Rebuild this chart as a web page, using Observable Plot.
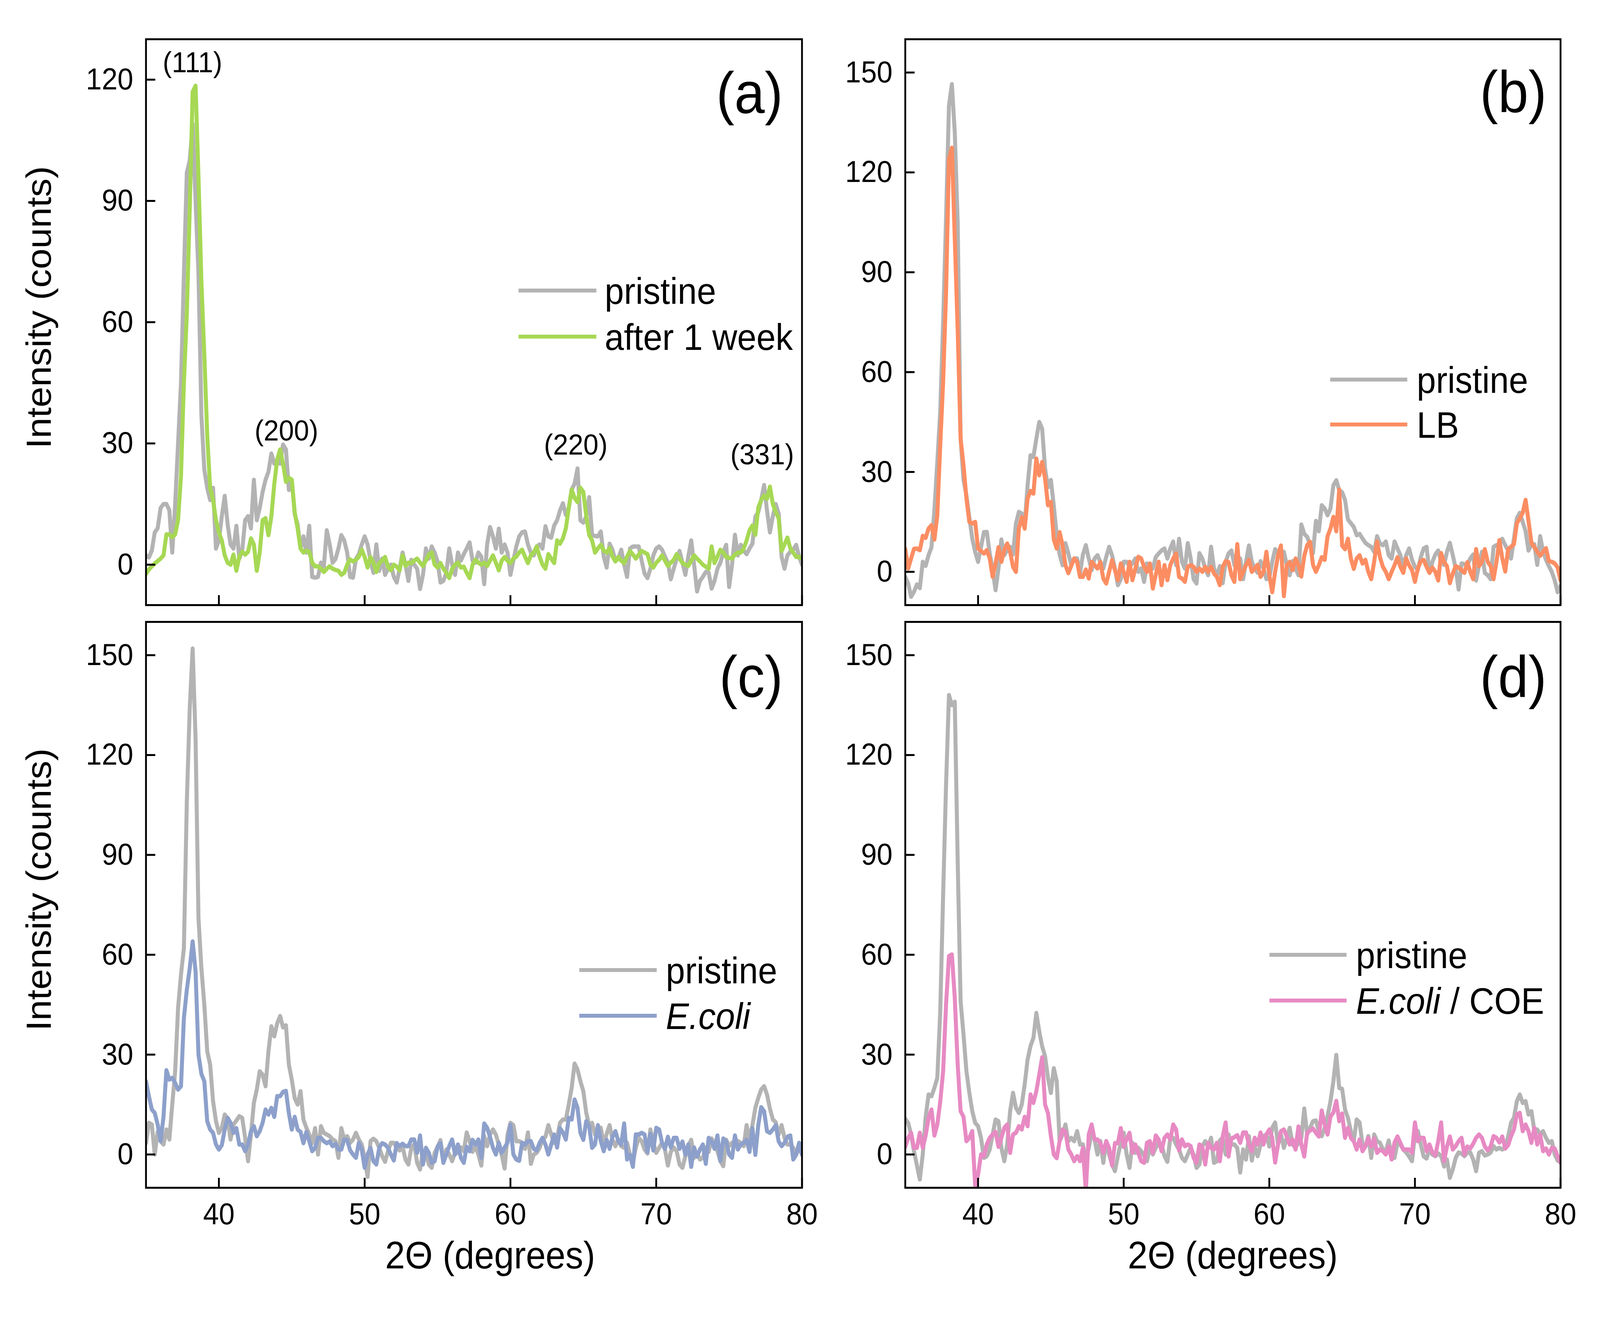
<!DOCTYPE html>
<html>
<head>
<meta charset="utf-8">
<script src="https://cdn.jsdelivr.net/npm/d3@7"></script>
<script src="https://cdn.jsdelivr.net/npm/@observablehq/plot@0.6"></script>
<style>
  html, body { margin: 0; padding: 0; background: #fff; overflow: hidden; }
  #root { position: absolute; left: 0; top: 0; width: 4400px; height: 3375px; background: #fff; overflow: hidden;
          font-family: "Liberation Sans", Arial, sans-serif; color: #000; transform-origin: 0 0; }
  .abs { position: absolute; white-space: nowrap; line-height: 1; }
</style>
</head>
<body>
<div id="root"></div>
<script>
// ---------------- data (2θ grid: 35.0 → 80.0, step 0.2°) ----------------
const twoThetaStart = 35;
const twoThetaStep = 0.2;

const aPristine = [
  2.3, 1.8, 3.5, 8, 9, 14, 15, 15, 13.5, 3,
  15, 30, 45, 72, 97, 100, 109, 90, 72, 37,
  23.5, 19, 16, 19, 4, 6, 12, 17, 10, 5,
  4, 9.6, 1.5, 3.5, 11, 12, 9, 21, 11, 14,
  18, 21, 23, 27.5, 25, 26, 25, 29.7, 28.5, 18.5,
  21, 12.5, 10, 4, 7, 3, 9.6, -3, -3.2, -3,
  0.5, -0.4, 8.5, 5, 0.5, 1.4, 4, 7.3, 6, 3,
  -3, -3.2, 1.4, 2.6, 5, 7, 5, 1, -2, 5,
  -1.5, 1.5, -2.5, -1, 0, -3, -4.4, -1, 3, 0,
  -4, 1.2, 0, -1, -6, -2.5, 4, 1.5, 4.5, 3,
  0.8, -4.4, -4, -2, 4, 0, -2.5, 3, 1, 2.6,
  4, 5.5, 1, 0.5, 3, 2, -4.8, 5, 9.3, 7,
  4, 8.9, 3, 5, 3, -2.5, 1, 4.5, 7, 8,
  8.2, 5, 3, 2.3, 4.5, 5, 4, 9.5, 7, 6.7,
  9.7, 11, 13.4, 15.2, 12.3, 14, 18.6, 20, 23.8, 11,
  10.4, 12, 16.7, 7.4, 7.1, 7, 8.2, 2, -0.7, 5.2,
  3.7, 1, 1.5, 3.7, 0, -3, 4, 4.5, 4.5, 4.5,
  1, -2.2, -3.3, -1, 2.3, 4, 4.5, 3.7, 2, 0.5,
  -3.6, -1, 1.5, 3.4, 0.5, -2.5, 2, 6, 0, -6.6,
  -4, -3, -1.8, -2, -5.9, -4, -1, 0.5, 3, 4.9,
  -5.5, 0, 7.4, 2.3, 4.9, 3.5, 2.6, 4, 5.2, 11.9,
  13, 16, 19.7, 13.4, 8, 12, 15, 12.6, 2, -1,
  2.3, 3.2, 3.7, 4.9, 2, 0
];
const aAfterWeek = [
  -2.3, -1.2, -0.4, 0.3, 0.9, 1.5, 2.3, 7.5, 7.5, 6.8,
  7.5, 11, 22, 45, 62, 88, 117, 118.5, 96, 70,
  52, 32, 19, 16, 11, 8, 6, 2.3, 0.5, 0,
  2.5, -1.5, 2, 3.2, 2.5, 3.2, 6.5, 5, -1.5, 3,
  11, 11.5, 7.3, 12, 20, 26, 28.5, 25, 20.5, 21.5,
  21, 13, 9, 4, 3, 3.5, 3.2, 0.5, -0.4, -0.4,
  -1, -1.8, -1, -0.4, -1, -1.3, -1.5, -2.5, -2, 0,
  1.3, 0.8, 1.2, 2, 3.7, 1.9, -0.7, 1.9, 0.5, -1.8,
  0.4, 1, 1.9, -0.5, -1.4, 0, -0.5, -1.4, 2.3, -0.3,
  0.5, 0.4, 1, 1.5, 0.5, -0.3, 1, 2.5, 3, 0,
  -0.7, 0.4, -1, -2, -3.3, -1, 0, 0.5, -0.7, -0.5,
  -2, -3.3, 0, 1.2, 0.5, 0, 0.5, -0.3, 1, 2.3,
  0.5, -1.4, 1, 1.9, 1, 0.4, 1.5, 2, 3, 3.7,
  2, 0.4, 2.3, 3, 4.5, 2, 0, -1, 2.6, 1.5,
  0.4, 6, 5.2, 6.5, 9, 14, 18.6, 16.5, 15.5, 19,
  18, 12, 7.4, 6, 3, 4, 4.9, 3.5, 3, 4.1,
  2, 0.8, 1.9, 1, 0.4, 2, 3.4, 2.5, 1.5, 2.5,
  3.4, 3, 2.6, 0, -0.7, 0.5, 1.2, 2.3, 1, -0.3,
  0.5, 1.2, 2.6, 1.5, 0.4, 0, -0.3, 1, 2.3, 1.5,
  0.8, 0, -0.5, -1, 4.5, 0.4, 2, 3.7, 3, 1.9,
  1.7, 1.5, 2.5, 3, 3, 4, 6, 8.5, 9.7, 7.4,
  14.1, 16, 17.1, 16.3, 19.3, 15, 13, 11.5, 3.4, 5,
  6.7, 4, 3, 1.9, 1.9, 1.5
];
const bPristine = [
  -1.5, -3.5, -7.5, -6, -3.8, -4.9, 3, 1.8, 5, 7.4,
  18.6, 33, 48, 75, 106, 140, 146.5, 132, 105, 40,
  27.6, 23, 16.4, 10, 6, 3, 7.4, 11.9, 12, 5.5,
  0.7, -5.5, 1, 9.7, 5, 6.5, 7.5, 5.2, 14.5, 18,
  17.5, 14.2, 26, 35, 34.5, 40, 45, 43, 31, 25.4,
  27.6, 19.8, 11, 5.2, 2, 8.6, 5.5, 2, 4, 4,
  -0.4, 5.2, 8, 4, 0.5, 4, 5, 2.9, 1, 4.5,
  7.5, 5, 1, -4, -2.2, 3, 3, 1.7, 2.5, 4,
  0, 1, -3, 2.5, 2, 1, 4.4, 5.5, 6.4, 7,
  4, 7, 9.1, 2, 9.9, 3, 1, 8.6, 4, -2.2,
  -3.5, 5.6, 4, 1, -1, 7.5, 1, -1, 1.7, -3.4,
  3, 5.5, 6.4, 2, 3, 4, -2.2, 3, 7.9, 3,
  1, -0.3, 3.2, 1, -2.2, -1.8, 3, 6.8, 5.6, 5.8,
  6, 2, -1, 3.2, 1, -1, 14.2, 11.4, 10.5, 8,
  5.6, 15.3, 12.2, 20, 19, 17, 19, 26, 27.5, 24.5,
  23.9, 21.6, 15.7, 14.6, 13.5, 11, 11.4, 10, 8.7, 8,
  7.5, 6, 10.7, 8.5, 8, 9.1, 5, 4, 9.1, 7,
  5, 1.7, 5, 7, 3.6, 1.5, 0.5, 4.4, 7, 7.5,
  -0.3, 3, 5.2, 6.4, 3, 2.1, 6, 8.7, 5, 1,
  -5.3, 2.5, 2.3, 2.1, 4, 5.2, -2.6, 2, 6, -0.3,
  -1, -2.2, 7.5, 8, 8.3, 9.9, 8, 6.4, 4, 10,
  16.1, 17.7, 15, 12.2, 6.4, 8, 8.3, 2.1, 10.7, 6,
  3.6, 1.7, 0, -2.6, -6.1, -4.2
];
const bLB = [
  6.9, 1, 4, 6.9, 7, 6.5, 10.8, 10.2, 13, 14,
  9.7, 17, 38, 57, 83.7, 124, 127.4, 100, 72.5, 40,
  32, 22, 15, 14.5, 15, 7, 6.3, 5.5, 6.5, 4,
  -1.5, 2.5, 7.4, 3, 6.5, 8.5, 6, 1.5, 0, 13,
  16.4, 13, 22, 24.3, 23.5, 34, 29, 33, 28, 20,
  21, 9.7, 7, 11.9, 8, 2, -0.4, 1.8, 4, 3,
  -1.5, -1.5, 0.7, -2, 3, 2, 1, 2.9, -2, -3.5,
  0, 3.5, 0.5, -2.5, 2.5, 0, -3, 3, -2.5, 1,
  4.5, 4, 1.5, 0, 2.5, -5, -1, 3, -4, 2,
  -2.5, 2, 4, 5.5, -1.5, -2, -3, 1.5, 2, 1.5,
  0, 1, 0, 1.5, 0, 1.5, -0.5, -1.5, -4, 1.5,
  3.2, 2.9, -1, -3, 8.3, -2.2, 0, 2, 3.6, 0,
  1, 2.1, -1.5, 0, 6, -1, -6.1, 0, 5, 7.9,
  -7.3, 2, 3, 0.5, 4, 2, -1.4, 4.8, 8, 9,
  2.1, 0, 2, 4.4, 3.6, 10.7, 13, 16.5, 12.2, 24.7,
  7.9, 6.8, 9.9, 4, 0.9, 4, 5, 2.5, 3.6, 0,
  -2.2, 3, 9.1, 4.4, 1.5, 0, -2.2, 0, 2, 4.4,
  1.5, -0.3, 4, 2, 0.5, -3, 1, 3.2, 3.6, 1.5,
  -0.3, 1.3, 0, -2.6, 5.6, 3, 1.7, -3.4, -0.5, 1.7,
  1.3, 0.5, -0.3, 2.9, 0, -2.2, 6.8, 1.7, 3, 6.8,
  3, 1.7, -2.2, 3, 9.5, 4, 0.1, 6.8, 7.5, 8.3,
  14.6, 16, 17.7, 21.6, 15.3, 8.7, 7.5, 6, 4.8, 6,
  7.1, 3.2, 3, 2.5, 1.3, -2.6
];
const cPristine = [
  3.4, 9.5, 9, 0, 6.8, 4, 3, 7.5, 4.5, 15,
  25, 44, 54, 62, 106, 134, 152, 125, 71, 56,
  45, 31, 27, 16, 10, 6.5, 8, 12, 10.7, 4.5,
  9, 10.2, 11.5, 11, 5, -2, 6, 15.5, 19.5, 25,
  24, 20.5, 31, 38.5, 35.5, 39.4, 41.6, 38.2, 38.8, 27,
  22.5, 16.9, 15, 19, 10.5, 8, 6, 3.4, 7.9, 0,
  8.5, 6.5, 6, 5.5, 4.5, 4, -1, 7.9, 4.5, 5.5,
  3.5, 4.5, 6.5, 4.5, 3, -1, -6.7, 4, 4.7, 4,
  2, -0.5, -2.2, 1, 3.5, 3.5, 2, 1.2, 2.3, -1.5,
  -3, 2, 3, -2.5, -4.5, 1, 0.5, -3, -4, 0.5,
  2.3, 4.3, -2, 1.5, 0, -2, 0.5, 0.5, 2.1, 1,
  6.6, 4, 0.8, 2.5, 0, -3.3, 5.5, 2.5, 6, 7.5,
  6, 3, -0.1, -4.2, 6, 9.5, 8.8, 4, 4, 3.5,
  1.7, 6.6, -2.8, 0, 0.5, 2, 4.4, 5.3, 8.8, 6,
  3.5, 5, 9.5, 10.5, 10.5, 15, 20, 27.3, 25.5, 22,
  19, 12.5, 8.8, 9.5, 6, 8, 8, 3, 6.2, 8.8,
  4.4, 2.5, 4.5, 2.5, 2, 3.5, -0.1, -2.4, 2, 5,
  4, 1.5, 0.3, 7.5, 3.5, 0.5, 2, 3.5, 1.5, -3.3,
  0.8, 2.1, 1, -3, -4, -0.5, 2.6, 4.4, -1, 0.5,
  -1.5, -1, 2.1, 0.8, 4.8, 3, 1, -2, -3.5, 4.4,
  2.5, 3.5, 4, 4, 3.5, 2.5, 8.8, 4.4, 8.8, 14,
  17, 19.5, 20.5, 18, 13.8, 10.5, 9.7, 6, 8.8, 5,
  3, 3, 2, 0, 2.1, 0
];
const cEcoli = [
  22, 17.5, 13.5, 12.5, 9, 4, 11.3, 25.3, 22.5, 23,
  21.5, 19.5, 20.5, 41, 49.5, 56, 64, 55, 30, 24.2,
  22, 10, 7.5, 6.5, 3, 1.5, 2.8, 7.5, 11, 9.5,
  6.5, 7.9, 3, 3, 1, 3, 7, 8.5, 5.5, 7,
  9.5, 13.5, 12, 14, 11.3, 17.5, 17.5, 18.8, 19.1, 12.4,
  7.5, 11.3, 7.5, 6.8, 3.4, 6.8, 4, 1, 2, 5,
  5, 4, 3.4, 3.9, 2.5, 3.2, 1.5, 1.5, 4.5, 4.3,
  1.3, 0, -1, 3.5, 1.5, -4, 0, 2, -2, -3,
  2, 3.4, 3, 2, 0, -1.8, 3.4, 2.5, 3.2, 2.5,
  2.5, 4.5, 4.5, 0.5, 5.7, -3, 2, 0.5, -2.5, -2,
  2.3, 3.4, -2.5, 0, 2.5, 4.5, 0, 3, -1, -2.5,
  2.3, 1, 4.4, 3, 4.5, -1, 9.3, 8, 5.3, 2,
  0, 3.5, 0.5, 2.1, 3.5, 8.8, 0, -1.5, -1.9, 3.5,
  3, 4, 4, 1.7, 1.2, 3.5, 5, 3, 0, 3,
  6, 2.1, 7.9, 6.6, 4.5, 11, 10.5, 16.5, 14, 6.5,
  4.4, 10, 8.5, 2, 3, 8.8, 4, 1, 4.4, 1.7,
  5.3, 7, 4, 3, 9.3, -1.5, -0.1, -3.7, 6, 6,
  6.5, 6, 0.8, 6.2, 1.2, 8, 7.5, 3.5, 1.7, 5.3,
  2.1, 5, 5, 1.7, 3.9, -0.1, 3, -3.7, 2.1, -0.6,
  1.5, 3, -2.8, 5, 4, 1.7, 5.7, -1.9, 4.8, 3.9,
  0, -1, 5.7, 1.5, 3, 3.5, 4.4, 0.8, 7.9, -0.1,
  8.8, 14.2, 13, 7, 6.5, 7.5, 8.8, 3.9, 2.5, 3.5,
  5.3, 5.7, -1.5, -0.1, 3.5, -0.1
];
const dPristine = [
  10.7, 9.5, 6, 1, -3.3, -7.5, 0, 11.3, 18, 17.5,
  20, 23, 42.7, 78, 111, 138, 135, 136, 88, 46,
  36, 25, 18.5, 13, 9.5, 8.5, 5, -1, -0.5, 1.5,
  6, 10.5, 10, 2, -2, 3, 13, 18.5, 14, 12.5,
  15, 21, 28.5, 32.6, 35, 42.5, 37, 32.5, 29.5, 23,
  18.5, 25.9, 22, 4, 6, 9, 4, 5, 4, 7,
  3, 3, -2, 2, 6.5, 4.5, 0, 4, -2.5, 4,
  0, -3, -5, -0.5, 3.5, 6.5, 0, -4, 3.5, 0.5,
  2, 1, -0.5, -2, 2.3, 0, 2, 3.5, 3, -0.5,
  -2.2, 5, 5, 3, 1.5, -1, -2, 0, 2, 0,
  -4, -3, 2.5, 4, 2.3, 5, -2.5, -2, 4.2, 5,
  0, 6, 3, 3, 2, -5.4, 1.5, -1.5, 5.5, -1.8,
  2.4, -0.5, 3, 5.5, 6, 2.4, 8, 9.6, 3, 6,
  2, 5, 8, 3, 2, 3.5, 5, 13.8, 6, 8,
  10, 10.2, 7, 5.5, 8, 11.5, 16, 22, 29.9, 20,
  19.7, 13.5, 11, 7, 4, 10.5, 9.6, 3, 2.4, 5.5,
  -1, 6, 4, 3.5, 1.5, 1, 4.2, -0.6, -1, 3.5,
  3, 1.5, 0.6, -0.6, -2, 6, 7, 3, -0.6, -1.2,
  1.5, 0, -0.5, 0.3, -0.5, -3.6, -1.5, -7, -4.5, -1,
  0.6, 0.3, -0.5, 0.6, 0.6, -1.5, -5, 0.5, 1, -0.3,
  0, 0.6, 2.5, 1.5, 2, 1.5, 2, 5.4, 9.5, 11,
  16, 18, 15.5, 16, 12, 13, 7.2, 7.5, 6, 7,
  5, 3.5, 4, 0, -1.8, -2.4
];
const dEcoliCOE = [
  2.3, 5, 6.5, 2, 2, 6.5, 2, 5.7, 11, 13.5,
  5.7, 9, 15.8, 25, 45, 59.6, 60.1, 47, 27, 13,
  11.3, 4, 5, 7, -9.5, -6, 0, -0.5, 3, 5,
  6, 6.8, 2.3, 5, 8, 9, 0.5, 6, 6.5, 8.5,
  7.5, 11.3, 8.5, 18, 15.5, 19, 24, 29.2, 15, 12.4,
  5.5, 0, -1.1, 4, 7.5, 6.8, 1.5, 0, -2, -0.5,
  -2, 2, -11, 6, 9, 4.5, 4.5, 3.4, 0.5, 4,
  2, -3.3, 3.4, 3.4, 7.9, 2.3, 4.5, 6.5, 0.5, 3,
  0.5, -2, -2.5, 3.5, 4, 0.5, 5.7, 4.5, 1, 5,
  6, 4.5, 9, 7.5, 1.2, 4.5, 2.5, 3, 2.5, -1,
  -2.5, 3, 2.3, -3, 3.5, 2, 1.5, 3.5, -2, 5.4,
  9.6, -0.6, 4.8, 5.2, 5.8, 3.5, 6.6, 6.6, 3, 1,
  5, 3, 6.6, 3, 6, 7.5, 5, -2.4, 3, 7,
  7.5, 5.4, 3, 4.5, 1.5, 8.4, 3, -0.6, 6.6, 7.2,
  7.8, 6.5, 5.4, 13.2, 9, 6, 11.4, 12.6, 16.1, 10,
  12.3, 5, 8, 5, 4, 1.5, 4.5, 1, 2.5, 5,
  2.4, 4.8, 0.5, 1.5, 1, 0, 2.4, -1.5, 3.6, 5.4,
  3.5, 1.5, 1.5, 1.5, 0.5, 9.6, 4, 5, 5, 1,
  3, 0.6, -0.3, 4, 9.6, -2, 2.4, 5.4, 1.5, 2.5,
  4, 5, 0, 2.4, 1.8, 3.2, 5, 6, 5, 2.4,
  1.2, 2.4, 5.5, 5, 3.6, 5.4, 1.8, 2.8, 5.5, 7.5,
  12, 12.5, 7, 9, 7, 3.5, 8, 3, 6, 1,
  1.8, 0, 2, 1.8, -0.5, -2.4
];

// ticks and labels
const xTicks = [40, 50, 60, 70, 80];
const yTicksA = [0, 30, 60, 90, 120];
const yTicksBCD = [0, 30, 60, 90, 120, 150];
const peakLabelText = ["(111)", "(200)", "(220)", "(331)"];
const peakLabelX = [38.19, 44.63, 64.48, 77.27];
const peakLabelY = [121.8, 30.7, 27.2, 24.8];
const panelLetters = ["(a)", "(b)", "(c)", "(d)"];
const legendNames = [
  ["pristine", "after 1 week"],
  ["pristine", "LB"],
  ["pristine", "<i>E.coli</i>"],
  ["pristine", "<i>E.coli</i> / COE"]
];
const xTitle = "2Θ (degrees)";
const yTitle = "Intensity (counts)";

// ---------------- styles ----------------
const GREY = "#b3b3b3";
const COLORS = ["#a6d854", "#fc8d62", "#8da0cb", "#e78ac3"];
const LINE_W = 11;
const FONT = '"Liberation Sans", Arial, sans-serif';

const toRows = arr => arr.map((y, i) => ({x: +(twoThetaStart + twoThetaStep * i).toFixed(1), y}));

const root = document.getElementById("root");

const panels = [
  {left: 0,    top: 0,    width: 2300, height: 1600, mL: 401, mR: 95,  mT: 100, mB: 51,  yDomain: [-10, 130], yTicks: yTicksA,   grey: aPristine, sample: aAfterWeek, showX: false, peaks: true},
  {left: 2300, top: 0,    width: 2100, height: 1600, mL: 189, mR: 109, mT: 100, mB: 51,  yDomain: [-10, 160], yTicks: yTicksBCD, grey: bPristine, sample: bLB,        showX: false, peaks: false},
  {left: 0,    top: 1560, width: 2300, height: 1815, mL: 401, mR: 95,  mT: 32,  mB: 334, yDomain: [-10, 160], yTicks: yTicksBCD, grey: cPristine, sample: cEcoli,     showX: true,  peaks: false},
  {left: 2300, top: 1560, width: 2100, height: 1815, mL: 189, mR: 109, mT: 32,  mB: 334, yDomain: [-10, 160], yTicks: yTicksBCD, grey: dPristine, sample: dEcoliCOE,  showX: true,  peaks: false}
];

panels.forEach((p, k) => {
  const marks = [
    Plot.line(toRows(p.grey), {x: "x", y: "y", stroke: GREY, strokeWidth: LINE_W, strokeLinejoin: "round", clip: true}),
    Plot.line(toRows(p.sample), {x: "x", y: "y", stroke: COLORS[k], strokeWidth: LINE_W, strokeLinejoin: "round", clip: true}),
    Plot.frame({stroke: "#000", strokeWidth: 5}),
    Plot.axisY({ticks: p.yTicks, tickSize: -26, strokeWidth: 5, tickFormat: () => "", label: null}),
    Plot.axisY({ticks: p.yTicks, tickSize: 0, tickPadding: 35, fontSize: 78, label: null}),
    Plot.axisX({ticks: xTicks, tickSize: -25, strokeWidth: 5, tickFormat: () => "", label: null})
  ];
  if (p.showX) marks.push(Plot.axisX({ticks: xTicks, tickSize: 0, tickPadding: 38, fontSize: 78, label: null}));
  if (p.peaks) {
    const pk = peakLabelText.map((t, i) => ({label: t, x: peakLabelX[i], y: peakLabelY[i]}));
    marks.push(Plot.text(pk, {x: "x", y: "y", text: "label", lineAnchor: "bottom", fontSize: 75, fill: "#000"}));
  }
  const svg = Plot.plot({
    width: p.width, height: p.height,
    marginLeft: p.mL, marginRight: p.mR, marginTop: p.mT, marginBottom: p.mB,
    style: {fontFamily: FONT, fontSize: "78px", color: "#000", background: "transparent", overflow: "visible", maxWidth: "none"},
    x: {domain: [35, 80], label: null},
    y: {domain: p.yDomain, label: null},
    marks
  });
  svg.style.position = "absolute";
  svg.style.left = p.left + "px";
  svg.style.top = p.top + "px";
  svg.style.maxWidth = "none";
  root.appendChild(svg);
});

// ---------------- overlays: legends, panel letters, axis titles ----------------
function addDiv(html, css) {
  const d = document.createElement("div");
  d.className = "abs";
  d.innerHTML = html;
  Object.assign(d.style, css);
  root.appendChild(d);
  return d;
}

const legendPos = [
  {x1: 1426, x2: 1640, ys: [744, 862],   tx: 1663},
  {x1: 3658, x2: 3870, ys: [972, 1087],  tx: 3896},
  {x1: 1593, x2: 1806, ys: [2484, 2601], tx: 1831},
  {x1: 3491, x2: 3703, ys: [2445, 2562], tx: 3729}
];
legendPos.forEach((L, k) => {
  [GREY, COLORS[k]].forEach((c, j) => {
    addDiv("", {left: L.x1 + "px", top: (L.ys[j] - 5) + "px", width: (L.x2 - L.x1) + "px", height: "10px", background: c});
    addDiv(legendNames[k][j], {left: L.tx + "px", top: (L.ys[j] - 46) + "px", fontSize: "95px"});
  });
});

const letterPos = [
  {right: 2247, baseline: 290},
  {right: 147,  baseline: 287},
  {right: 2247, baseline: 1785},
  {right: 147,  baseline: 1785}
];
letterPos.forEach((L, k) => {
  addDiv(panelLetters[k], {right: L.right + "px", top: (L.baseline - 127) + "px", fontSize: "150px"});
});

[787, 2278].forEach(cy => {
  addDiv(yTitle, {left: "107px", top: cy + "px", fontSize: "95px", transform: "translate(-50%, -50%) rotate(-90deg)"});
});
[1348, 3390].forEach(cx => {
  addDiv(xTitle, {left: cx + "px", top: "3165px", fontSize: "98px", transform: "translateX(-50%)"});
});

// ---------------- fit the 4400×3375 drawing to the actual viewport ----------------
function fit() {
  const iw = window.innerWidth || document.documentElement.clientWidth;
  const ih = window.innerHeight || document.documentElement.clientHeight;
  const sx = iw / 4400, sy = ih / 3375;
  if (Math.abs(sx - 1) > 0.002 || Math.abs(sy - 1) > 0.002) {
    root.style.transform = `scale(${sx}, ${sy})`;
  } else {
    root.style.transform = "none";
  }
}
fit();
window.addEventListener("resize", fit);
</script>
</body>
</html>
